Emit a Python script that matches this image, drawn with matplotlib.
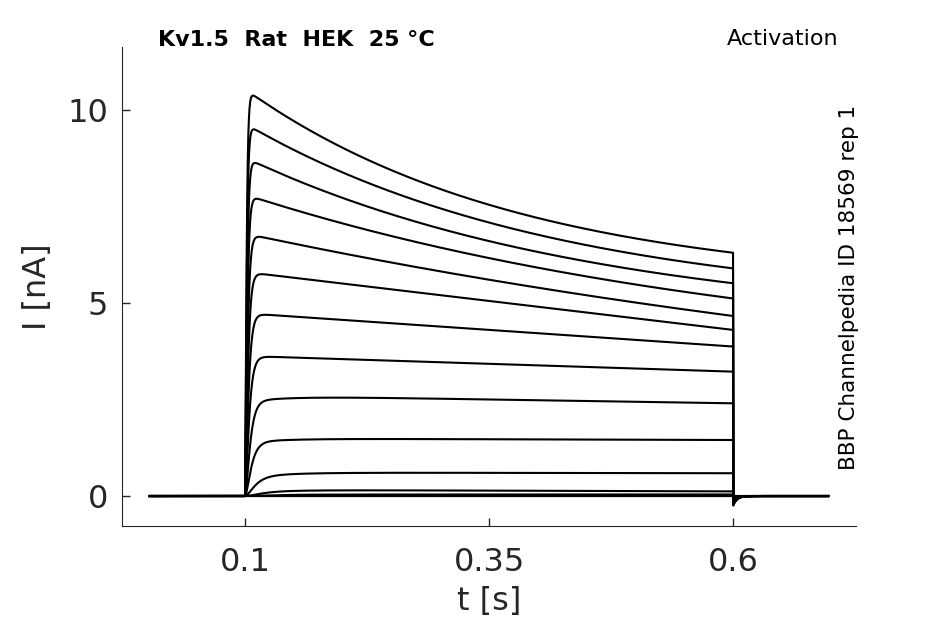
import numpy as np
import matplotlib
matplotlib.use("Agg")
import matplotlib.pyplot as plt

# step protocol timing [s]
t_on = 0.1
t_off = 0.6
t_start = 0.0025
t_end = 0.6975

# values read per trace [nA]: early (just after onset), at 0.35 s, at 0.6 s
early_vals = [10.41, 9.54, 8.68, 7.75, 6.76, 5.78, 4.72, 3.62, 2.46, 1.40, 0.50, 0.10, 0.02, 0.0, 0.0]
mid_vals   = [7.54, 7.08, 6.60, 6.16, 5.60, 5.08, 4.39, 3.50, 2.50, 1.47, 0.60, 0.14, 0.04, 0.0, 0.0]
end_vals   = [6.35, 5.94, 5.55, 5.15, 4.69, 4.30, 3.87, 3.22, 2.40, 1.45, 0.59, 0.12, 0.04, 0.0, 0.0]
# activation time constants [s]
tau_act    = [0.0012, 0.0013, 0.0015, 0.0017, 0.0020, 0.0023, 0.0027, 0.0032, 0.0040, 0.0050, 0.0080, 0.012, 0.015, 0.02, 0.02]

xticks = [0.1, 0.35, 0.6]
xticklabels = ["0.1", "0.35", "0.6"]
yticks = [0, 5, 10]


def make_trace(t, early, mid, end, ta):
    t0, t1, t2 = t_on + 0.007, 0.35, 0.6
    d1 = early - mid
    d2 = mid - end
    i = np.zeros_like(t)
    on = (t >= t_on) & (t < t_off)
    ts = t[on]
    act = (1 - np.exp(-(ts - t_on) / ta)) ** 2
    ratio = d2 / d1 if abs(d1) > 1e-6 else -1
    if 0 < ratio < 0.95:
        # exponential decay through the three read values
        tau = (t2 - t1) / -np.log(ratio)
        b = d1 / (1 - np.exp(-(t1 - t0) / tau))
        a = mid - b * np.exp(-(t1 - t0) / tau)
        slow = a + b * np.exp(-(ts - t0) / tau)
    elif d1 > 0 and d2 > 0:
        # nearly linear decay from early to end
        slow = early + (end - early) * (ts - t0) / (t2 - t0)
    else:
        # slow rise to a plateau that drifts from mid to end
        line = mid + (end - mid) * (ts - t1) / (t2 - t1)
        line0 = mid + (end - mid) * (t0 - t1) / (t2 - t1)
        slow = line + (early - line0) * np.exp(-(ts - t0) / 0.04)
    i[on] = act * slow
    # small inward tail after the step
    off = t >= t_off
    i[off] = -0.04 * end * np.exp(-(t[off] - t_off) / 0.004)
    return i


t = np.arange(t_start, t_end, 0.0002)

fig = plt.figure(figsize=(9.45, 6.24), dpi=100)
ax = fig.add_axes([0.129, 0.157, 0.777, 0.768])

for k in range(len(early_vals)):
    ax.plot(t, make_trace(t, early_vals[k], mid_vals[k], end_vals[k], tau_act[k]),
            color="black", lw=1.5)

ax.set_xlim(-0.026, 0.726)
ax.set_ylim(-0.777, 11.63)
ax.set_xticks(xticks)
ax.set_xticklabels(xticklabels)
ax.set_yticks(yticks)
ax.tick_params(direction="in", length=6, width=1, labelsize=23, colors="#262626")
ax.tick_params(axis="x", pad=15)
ax.tick_params(axis="y", pad=10)
for s in ["top", "right"]:
    ax.spines[s].set_visible(False)
for s in ["left", "bottom"]:
    ax.spines[s].set_color("#262626")
ax.set_xlabel("t [s]", fontsize=23, color="#262626", labelpad=6)
ax.set_ylabel("I [nA]", fontsize=23, color="#262626", labelpad=10)

fig.text(158 / 945, 1 - 40 / 624, "Kv1.5  Rat  HEK  25 °C", fontsize=16, fontweight="bold",
         ha="left", va="center")
fig.text(838 / 945, 1 - 39 / 624, "Activation", fontsize=16, ha="right", va="center")
fig.text(849 / 945, 1 - 287 / 624, "BBP Channelpedia ID 18569 rep 1", fontsize=15.5,
         rotation=90, ha="center", va="center")

fig.savefig("out.png", dpi=100)
